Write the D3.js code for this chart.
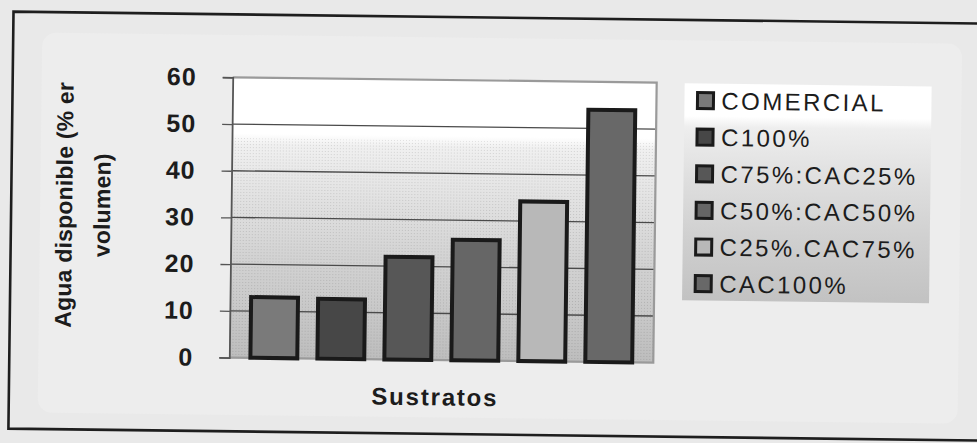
<!DOCTYPE html>
<html>
<head>
<meta charset="utf-8">
<script src="https://cdn.jsdelivr.net/npm/d3@7/dist/d3.min.js"></script>
<style>
  html, body { margin: 0; padding: 0; background: #ebebeb; }
  svg { display: block; }
  text { font-family: "Liberation Sans", Arial, sans-serif; fill: #1c1c1c; }
</style>
</head>
<body>
<svg id="chart" width="977" height="443"></svg>
<script>
// Substrates and available water (% by volume)
const categories = ["COMERCIAL", "C100%", "C75%:CAC25%", "C50%:CAC50%", "C25%.CAC75%", "CAC100%"];
const values = [13, 12.8, 22, 25.8, 34.2, 54];
const barFills = ["#7a7a7a", "#474747", "#575757", "#666666", "#b8b8b8", "#686868"];
const yTicks = [0, 10, 20, 30, 40, 50, 60];
const yTitleLines = ["Agua disponible (% er", "volumen)"];
const xTitle = "Sustratos";

const svg = d3.select("#chart");
const W = 977, H = 443;

// paper background
svg.append("rect").attr("width", W).attr("height", H).attr("fill", "#e9e9e9");

const defs = svg.append("defs");
const grad = defs.append("linearGradient")
  .attr("id", "plotFill").attr("x1", 0).attr("y1", 0).attr("x2", 0).attr("y2", 1);
[[0, "#ffffff"], [0.2, "#ffffff"], [0.24, "#f0f0f0"], [0.45, "#e0e0e0"],
 [0.65, "#d2d2d2"], [0.85, "#c7c7c7"], [1, "#bdbdbd"]]
  .forEach(([o, c]) => grad.append("stop").attr("offset", o).attr("stop-color", c));

const lgGrad = defs.append("linearGradient")
  .attr("id", "legendFill").attr("x1", 0).attr("y1", 0).attr("x2", 0).attr("y2", 1);
[[0, "#ffffff"], [0.15, "#ffffff"], [0.2, "#eeeeee"], [0.45, "#dedede"],
 [0.7, "#d0d0d0"], [1, "#c2c2c2"]]
  .forEach(([o, c]) => lgGrad.append("stop").attr("offset", o).attr("stop-color", c));

// fine dither texture
const pat = defs.append("pattern").attr("id", "dots")
  .attr("width", 3).attr("height", 3).attr("patternUnits", "userSpaceOnUse");
pat.append("rect").attr("width", 1).attr("height", 1).attr("fill", "#000").attr("opacity", 0.12);

// whole figure sits slightly askew on the page
const g = svg.append("g").attr("transform", "rotate(0.7, 490, 220)");

// chart area
g.append("rect").attr("x", 40).attr("y", 38).attr("width", 920).attr("height", 380)
  .attr("rx", 14).attr("fill", "#ededed");

// outer frame
g.append("path")
  .attr("d", "M1000,17.5 L11,17.5 L11,434.5 L1000,434.5")
  .attr("fill", "none").attr("stroke", "#1e1e1e").attr("stroke-width", 2.6);

const plot = { left: 231, right: 655, top: 80.5, bottom: 360.7 };

const y = d3.scaleLinear().domain([0, 60]).range([plot.bottom, plot.top]);
const x = d3.scaleBand().domain(categories)
  .range([plot.left + 1, plot.right - 1]).paddingInner(0.3).paddingOuter(0.3);

// plot background
g.append("rect")
  .attr("x", plot.left).attr("y", plot.top)
  .attr("width", plot.right - plot.left).attr("height", plot.bottom - plot.top)
  .attr("fill", "url(#plotFill)");
g.append("rect")
  .attr("x", plot.left).attr("y", y(47))
  .attr("width", plot.right - plot.left).attr("height", plot.bottom - y(47))
  .attr("fill", "url(#dots)");

// grid lines
g.append("g").selectAll("line")
  .data(yTicks.filter(t => t > 0 && t < 60))
  .join("line")
  .attr("x1", plot.left).attr("x2", plot.right)
  .attr("y1", d => y(d)).attr("y2", d => y(d))
  .attr("stroke", "#4a4a4a").attr("stroke-width", 1.3);

// plot border (top/right/bottom)
g.append("path")
  .attr("d", `M${plot.left},${plot.top} L${plot.right},${plot.top} L${plot.right},${plot.bottom} L${plot.left},${plot.bottom}`)
  .attr("fill", "none").attr("stroke", "#9a9a9a").attr("stroke-width", 2.2);

// y axis
const yAxis = d3.axisLeft(y).tickValues(yTicks).tickSize(10).tickPadding(26);
const ya = g.append("g").attr("transform", `translate(${plot.left},0)`).call(yAxis);
ya.select(".domain").attr("stroke", "#555").attr("stroke-width", 1.8);
ya.selectAll(".tick line").attr("stroke", "#555").attr("stroke-width", 1.3);
ya.selectAll(".tick text")
  .attr("font-size", 25).attr("font-weight", "bold")
  .attr("letter-spacing", 1).style("font-family", "'Liberation Sans', Arial, sans-serif")
  .attr("fill", "#1c1c1c");

// bars
g.append("g").selectAll("rect")
  .data(values)
  .join("rect")
  .attr("x", (d, i) => x(categories[i]))
  .attr("y", d => y(d))
  .attr("width", x.bandwidth())
  .attr("height", d => y(0) - y(d))
  .attr("fill", (d, i) => barFills[i])
  .attr("stroke", "#1a1a1a").attr("stroke-width", 4);

// axis titles
const yt = g.append("text")
  .attr("transform", "translate(83,210) rotate(-90)")
  .attr("text-anchor", "middle")
  .attr("font-size", 23).attr("font-weight", "bold").attr("letter-spacing", 0.2);
yTitleLines.forEach((t, i) => {
  yt.append("tspan").attr("x", 0).attr("y", i === 0 ? -11 : 27).text(t);
});

g.append("text")
  .attr("x", 437).attr("y", 406)
  .attr("text-anchor", "middle")
  .attr("font-size", 24).attr("font-weight", "bold").attr("letter-spacing", 1.8)
  .text(xTitle);

// legend
const lg = g.append("g");
lg.append("rect").attr("x", 683).attr("y", 81).attr("width", 247).attr("height", 217)
  .attr("fill", "url(#legendFill)");
const rowY = d3.scaleLinear().domain([0, 5]).range([98, 281]);
const rows = lg.selectAll("g.row").data(categories).join("g")
  .attr("class", "row")
  .attr("transform", (d, i) => `translate(0,${rowY(i)})`);
rows.append("rect")
  .attr("x", 696).attr("y", -8).attr("width", 16).attr("height", 16)
  .attr("fill", (d, i) => barFills[i])
  .attr("stroke", "#1a1a1a").attr("stroke-width", 3);
rows.append("text")
  .attr("x", 720).attr("y", 0).attr("dy", "0.36em")
  .attr("font-size", 24).attr("letter-spacing", 2.4)
  .attr("fill", "#151515")
  .text(d => d);
</script>
</body>
</html>
